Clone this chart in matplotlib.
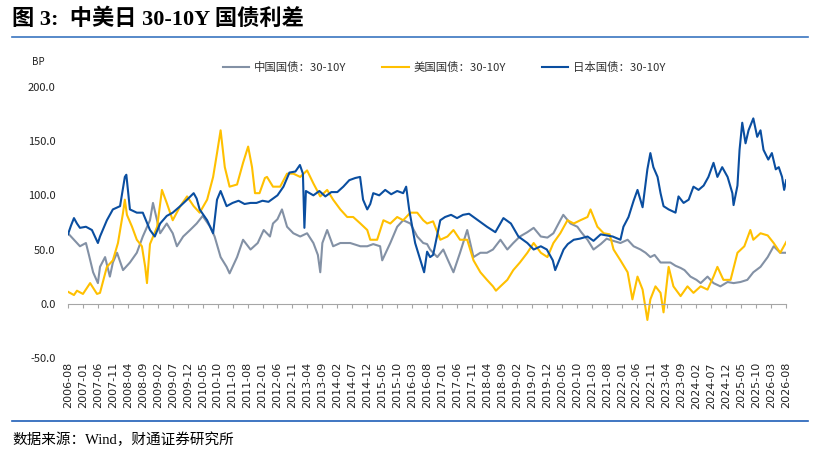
import matplotlib
matplotlib.use("Agg")
import matplotlib.pyplot as plt
import pandas as pd

plt.rcParams['font.family'] = ['Noto Sans CJK SC', 'DejaVu Sans']

# x positions are months counted from 2006-08
cn_m = [0, 1, 2, 4, 6, 7, 8.4, 10, 10.7, 12.4, 14, 15, 16.4, 18.4, 20.7, 23, 25, 27.4, 28.4, 29.5,
        30.8, 33, 35, 36.4, 38.5, 40.8, 43, 45, 47.5, 49, 51, 53, 54, 56.5, 58.5, 61, 63.4, 65.4,
        67.5, 68.5, 70, 71.5, 73.2, 75.3, 77.6, 79.9, 82, 83.5, 84.3, 85, 86.6, 88.6, 91, 94.3,
        97.7, 100, 102, 104.3, 105, 107.7, 110, 112, 114.4, 116.7, 118.7, 120, 121, 123.4,
        125.4, 127, 128.8, 131, 133.4, 135.5, 137.8, 140, 142, 144.5, 146.8, 148.8, 151, 153.5,
        155.6, 158, 160.2, 162.2, 164.5, 165.5, 167.9, 170.2, 171.5, 173.6, 175.6, 178, 180,
        181, 184.6, 187, 189, 191.3, 193, 194.6, 196, 198, 201.3, 203, 204.7, 206, 208, 210,
        211.4, 213.7, 215.7, 218, 220.4, 222.4, 224.7, 227, 229, 231.4, 233.8, 235.8, 238, 240]
cn_v = [65, 62, 59, 53, 56, 45, 29, 19, 34, 43, 25, 38, 47, 31, 38, 47, 62, 77, 93, 80,
        65, 74, 65, 53, 62, 68, 74, 81, 71, 62, 43, 34, 28, 43, 59, 50, 56, 68,
        62, 74, 78, 87, 71, 65, 62, 65, 56, 45, 29, 56, 68, 53, 56, 56,
        53, 53, 55, 53, 40, 56, 71, 77, 74, 62, 56, 55, 50, 43,
        50, 40, 29, 47, 68, 43, 47, 47, 50, 59, 50, 56, 62, 66,
        70, 62, 61, 65, 77, 82, 74, 71, 66, 59, 50, 55, 60,
        59, 56, 59, 53, 50, 47, 43, 45, 38, 38, 35, 33, 31, 25, 22,
        19, 25, 19, 16, 20, 19, 20, 22, 29, 34, 43, 53, 47, 47]

us_m = [0, 2, 3, 5, 7.4, 9.7, 10.7, 13, 15, 16.7, 18.4, 19, 19.7, 21.4, 23, 24.7, 25.8, 26.4,
        27.4, 29.8, 31.4, 33, 35, 37.5, 39.8, 42, 44, 46.5, 48.5, 49.8, 51, 52.4, 54, 56.5,
        58.5, 60.2, 61.5, 62.5, 64, 65.8, 66.5, 68.5, 70.9, 73.2, 75.3, 77.6, 79.9, 82, 84.3,
        86.6, 88.6, 91, 93.3, 95.3, 97.7, 100, 101, 103.3, 105.4, 107.7, 110, 112, 114.4,
        116.7, 118.7, 120, 122, 124.4, 126.8, 128.8, 131, 133.4, 135.5, 137.8, 140, 142, 143,
        144.5, 146.8, 148.8, 151, 153.5, 155.6, 158, 160.2, 162.2, 164.5, 166.9, 169, 171.2,
        173.6, 174.6, 176.9, 179, 181, 182.3, 184.6, 187, 188.6, 190.3, 192, 193.6, 194.6,
        196.3, 198, 199, 200.7, 202.3, 204.7, 207, 209, 211.4, 213.7, 215.7, 217, 219, 221.4,
        223.7, 226, 228, 229, 231.4, 233.8, 235.8, 238, 240]
us_v = [11, 8, 12, 9, 19, 9, 10, 34, 40, 56, 84, 96, 82, 71, 59, 53, 34, 19,
        55, 71, 105, 93, 77, 90, 99, 90, 84, 96, 117, 139, 160, 126, 108, 110,
        130, 145, 126, 102, 102, 116, 117, 108, 108, 120, 120, 117, 123, 111, 99,
        105, 96, 87, 80, 80, 74, 68, 59, 59, 77, 74, 80, 77, 84,
        84, 77, 74, 76, 59, 62, 68, 59, 59, 40, 29, 22, 16, 12,
        16, 22, 31, 38, 47, 56, 47, 43, 56, 65, 77, 74, 77,
        80, 87, 71, 65, 64, 50, 40, 29, 4, 25, 13, -15, 4,
        16, 10, -8, 34, 16, 7, 16, 10, 16, 13, 25, 34, 22, 22,
        47, 53, 68, 59, 65, 63, 56, 47, 57]

jp_m = [0, 1, 2, 3, 4, 6, 8, 10, 10.7, 13, 15, 17.4, 19, 19.5, 20.7, 23, 25, 27.4, 29, 30.8,
        33, 35, 37.5, 39.8, 42, 43, 44, 46.5, 48.5, 49.8, 51, 53, 55, 57, 59, 61, 63, 65, 67,
        68.5, 70, 72, 74, 76, 77.5, 78.5, 79, 79.5, 82, 84, 86, 88, 90, 92, 94, 96, 97.6, 98.6,
        100, 101, 102, 104, 106, 108, 110, 112, 113, 114, 116, 118, 119, 120, 121, 122, 124.4,
        126, 128, 130, 132, 134, 135.5, 138, 140, 142.8, 145.5, 148, 150.5, 153.5, 155.6, 158,
        160, 162, 162.8, 165.6, 167, 169, 171, 173.6, 175.6, 178, 180, 182, 184.6, 185.6,
        187.3, 189, 190.3, 192, 193.6, 194.6, 195.6, 197, 198, 199, 200.7, 203, 204, 205.7,
        207.4, 209, 210.7, 212.4, 214, 215.7, 217, 218.6, 220.4, 222, 222.4, 223.7, 224.4,
        225.3, 226.4, 227.4, 229, 230.3, 231.4, 232.4, 234, 235.2, 236.5, 237.5, 238.6, 239.3,
        240]
jp_v = [64, 72, 79, 74, 70, 71, 68, 56, 62, 77, 87, 90, 117, 119, 87, 84, 84, 68, 62, 74,
        81, 84, 90, 96, 102, 97, 87, 77, 65, 96, 104, 90, 93, 95, 92, 93, 93, 95, 94,
        97, 100, 108, 121, 122, 128, 120, 70, 104, 100, 104, 99, 103, 103, 108, 114, 116, 117, 96,
        87, 92, 102, 100, 105, 101, 104, 102, 108, 87, 56, 38, 29, 48, 43, 45, 77,
        80, 82, 79, 82, 83, 80, 75, 71, 66, 79, 74, 62, 56, 50, 53,
        50, 40, 31, 50, 55, 59, 60, 62, 58, 64, 63, 62, 59, 71,
        80, 95, 105, 89, 124, 139, 126, 117, 102, 90, 87, 84, 99, 93,
        96, 108, 105, 109, 117, 130, 117, 126, 117, 102, 91, 109, 142,
        167, 148, 160, 171, 154, 160, 142, 133, 139, 124, 126, 117, 105,
        114]

series_names = ['中国国债：30-10Y', '美国国债：30-10Y', '日本国债：30-10Y']
series_colors = ['#8391a5', '#ffc000', '#0a4ea0']

tick_months = list(range(0, 241, 5))
tick_labels = pd.period_range('2006-08', '2026-08', freq='M')[::5].strftime('%Y-%m')
y_ticks = [-50, 0, 50, 100, 150, 200]

fig = plt.figure(figsize=(8.19, 4.53), dpi=100)
ax = fig.add_axes([0.083, 0.210, 0.877, 0.598])

for xs, ys, name, c in zip([cn_m, us_m, jp_m], [cn_v, us_v, jp_v], series_names, series_colors):
    ax.plot(xs, ys, color=c, lw=1.5, label=name)

ax.set_xlim(0, 240)
ax.set_ylim(-50, 200)
ax.set_yticks(y_ticks)
ax.set_yticklabels(['%.1f' % v for v in y_ticks], fontsize=8, color='#222222')
ax.tick_params(axis='y', length=0, pad=9)

for s in ['top', 'right', 'left']:
    ax.spines[s].set_visible(False)
ax.spines['bottom'].set_position(('data', 0))
ax.spines['bottom'].set_color('#a6a6a6')
ax.set_xticks(tick_months)
ax.tick_params(axis='x', length=3, color='#a6a6a6', labelbottom=False)

sec = ax.secondary_xaxis('bottom')
sec.set_xticks(tick_months)
sec.set_xticklabels(tick_labels, rotation=90, fontsize=8, family='DejaVu Sans', color='#222222')
sec.tick_params(length=0, pad=3)
sec.spines['bottom'].set_visible(False)

ax.legend(loc='center', bbox_to_anchor=(0.542, 0.852), bbox_transform=fig.transFigure,
          ncol=3, frameon=False, fontsize=8.2, handlelength=2.3, handletextpad=0.4,
          columnspacing=3.2, labelcolor='#333333')

fig.text(0.039, 0.863, 'BP', fontsize=7, va='center', color='#222222')
fig.text(0.015, 0.957, '图 3:  中美日 30-10Y 国债利差', fontsize=16, weight='bold', va='center',
         family=['Liberation Serif', 'Noto Sans CJK SC'])
fig.text(0.015, 0.029, '数据来源：Wind，财通证券研究所', fontsize=10.5, va='center',
         family=['Liberation Serif', 'Noto Sans CJK SC'])

fig.add_artist(plt.Line2D([0.015, 0.987], [0.918, 0.918], color='#3a75c0', lw=1.2))
fig.add_artist(plt.Line2D([0.015, 0.987], [0.071, 0.071], color='#1f5fb8', lw=1.2))

fig.savefig('out.png', dpi=100)
